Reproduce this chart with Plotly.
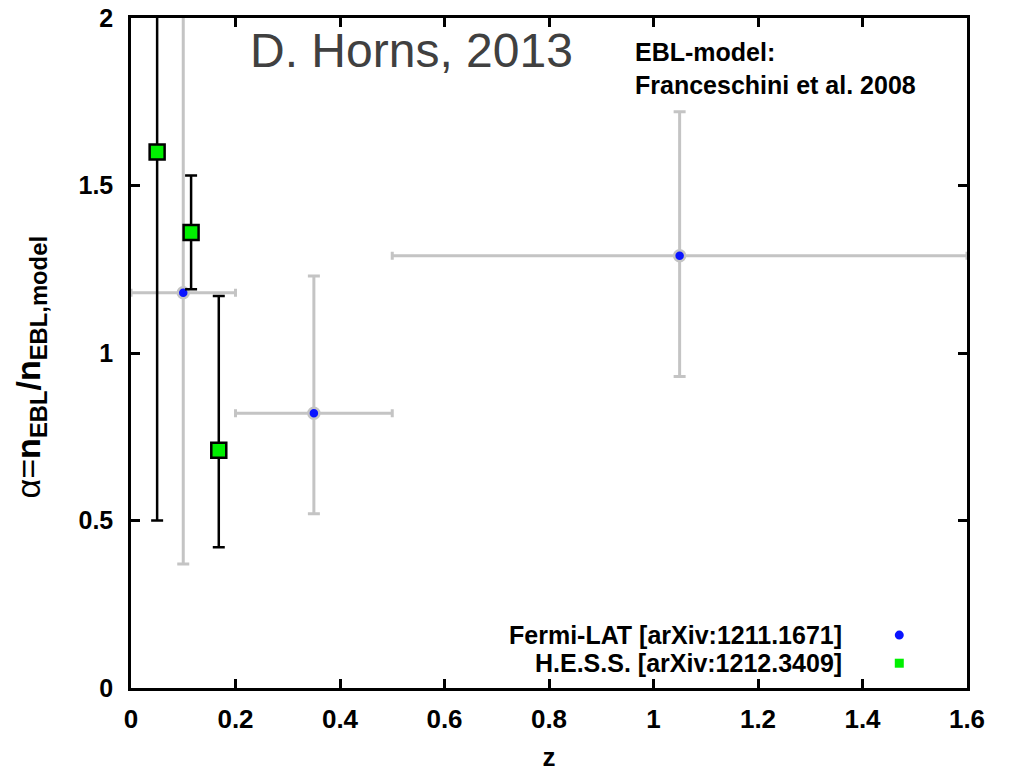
import plotly.graph_objects as go

# Fermi-LAT EBL normalisation per redshift bin
fermi_z = [0.1, 0.35, 1.05]
fermi_z_lo = [0.0, 0.2, 0.5]
fermi_z_hi = [0.2, 0.5, 1.6]
fermi_alpha = [1.18, 0.82, 1.29]
fermi_alpha_lo = [0.37, 0.52, 0.93]
fermi_alpha_hi = [2.3, 1.23, 1.72]

# H.E.S.S. EBL normalisation
hess_z = [0.05, 0.115, 0.168]
hess_alpha = [1.60, 1.36, 0.71]
hess_alpha_lo = [0.50, 1.19, 0.42]
hess_alpha_hi = [2.3, 1.53, 1.17]

x_ticks = [0, 0.2, 0.4, 0.6, 0.8, 1, 1.2, 1.4, 1.6]
y_ticks = [0, 0.5, 1, 1.5, 2]

FONT = "Liberation Sans"
GRAY = "#c4c4c4"

fig = go.Figure()

fig.add_trace(go.Scatter(
    x=fermi_z, y=fermi_alpha, mode="markers",
    marker=dict(symbol="circle", size=11, color="#0a14ff",
                line=dict(color=GRAY, width=2.5)),
    error_x=dict(type="data", symmetric=False,
                 array=[h - z for h, z in zip(fermi_z_hi, fermi_z)],
                 arrayminus=[z - l for l, z in zip(fermi_z_lo, fermi_z)],
                 color=GRAY, thickness=3, width=4),
    error_y=dict(type="data", symmetric=False,
                 array=[h - a for h, a in zip(fermi_alpha_hi, fermi_alpha)],
                 arrayminus=[a - l for l, a in zip(fermi_alpha_lo, fermi_alpha)],
                 color=GRAY, thickness=3, width=6),
    showlegend=False,
))

fig.add_trace(go.Scatter(
    x=hess_z, y=hess_alpha, mode="markers",
    marker=dict(symbol="square", size=15, color="#00f000",
                line=dict(color="black", width=2.5)),
    error_y=dict(type="data", symmetric=False,
                 array=[h - a for h, a in zip(hess_alpha_hi, hess_alpha)],
                 arrayminus=[a - l for l, a in zip(hess_alpha_lo, hess_alpha)],
                 color="black", thickness=2.5, width=6),
    showlegend=False,
))

# key entries: labels on the left, symbols on the right
legend_entries = [
    ("Fermi-LAT [arXiv:1211.1671]", 0.079, "circle", "#0a14ff"),
    ("H.E.S.S. [arXiv:1212.3409]", 0.037, "square", "#00f000"),
]
for label, ypos, sym, col in legend_entries:
    fig.add_annotation(x=0.853, y=ypos, xref="paper", yref="paper",
                       text=f"<b>{label}</b>", showarrow=False, xanchor="right",
                       yanchor="middle",
                       font=dict(family=FONT, size=25, color="black"))
    fig.add_shape(type=sym if sym == "circle" else "rect",
                  xref="paper", yref="paper",
                  xsizemode="pixel", ysizemode="pixel",
                  xanchor=0.919, yanchor=ypos,
                  x0=-4.5, x1=4.5, y0=-4.5, y1=4.5,
                  fillcolor=col, line=dict(width=0))

fig.add_annotation(x=0.601, y=0.973, xref="paper", yref="paper",
                   text="<b>EBL-model:<br>Franceschini et al. 2008</b>",
                   showarrow=False, xanchor="left", yanchor="top", align="left",
                   font=dict(family=FONT, size=25, color="black"))

fig.add_annotation(x=0.335, y=0.952, xref="paper", yref="paper",
                   text="D. Horns, 2013", showarrow=False,
                   xanchor="center", yanchor="middle",
                   font=dict(family=FONT, size=48, color="#404040"))

# vertical axis label
fig.add_annotation(x=-0.12, y=0.478, xref="paper", yref="paper",
                   text="α=<b>n<sub>EBL</sub>/n<sub>EBL,model</sub></b>",
                   textangle=-90, showarrow=False,
                   xanchor="center", yanchor="middle",
                   font=dict(family=FONT, size=34, color="black"))

axis_common = dict(
    showline=True, linecolor="black", linewidth=2.5, mirror="ticks",
    ticks="inside", ticklen=9, tickwidth=2.5, tickcolor="black",
    showgrid=False, zeroline=False, automargin=False,
)

fig.update_xaxes(range=[0, 1.6], tickvals=x_ticks,
                 ticktext=[f"{v:g}" for v in x_ticks],
                 ticklabelstandoff=6,
                 tickfont=dict(family=FONT, size=26, color="black", weight="bold"),
                 title=dict(text="<b>z</b>", standoff=24,
                            font=dict(family=FONT, size=26, color="black")),
                 **axis_common)
fig.update_yaxes(range=[0, 2], tickvals=y_ticks,
                 ticktext=[f"{v:g}" for v in y_ticks],
                 ticklabelstandoff=10,
                 tickfont=dict(family=FONT, size=25, color="black", weight="bold"),
                 **axis_common)

fig.update_layout(
    width=1009, height=772,
    margin=dict(l=131, r=42, t=18, b=84),
    plot_bgcolor="white", paper_bgcolor="white",
)

fig.write_html("out.html")
